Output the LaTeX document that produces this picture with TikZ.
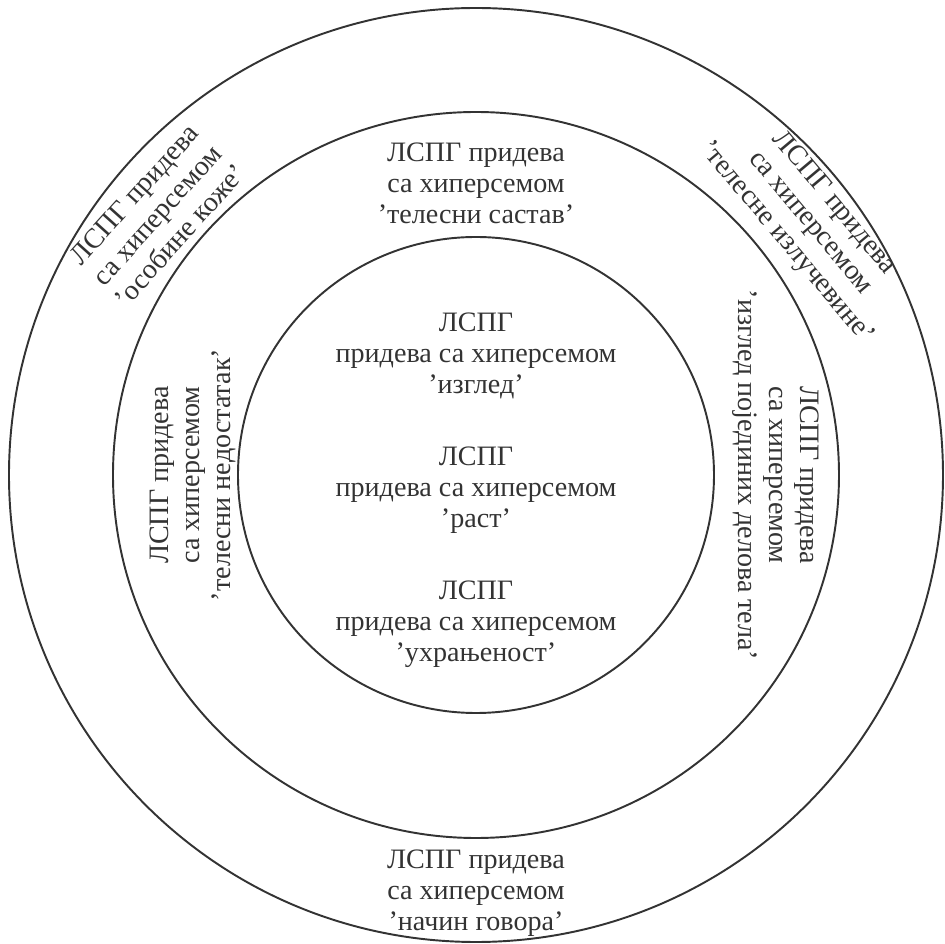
\documentclass[tikz,border=0pt]{standalone}
\usepackage{fontspec}
\setmainfont{Liberation Serif}
\usepackage{tikz}
\usetikzlibrary{positioning, calc}

\begin{document}
\begin{tikzpicture}[ring/.style={draw=black!80,line width=1.1pt}, lbl/.style={align=center,inner sep=0pt,text=black!80,font=\fontsize{16}{17.6}\selectfont}]
  \useasboundingbox (-9.52,-9.38) rectangle (9.38,9.50);
  \coordinate (c) at (0,0);
  % three rings
  \draw[ring] (c) circle (9.34);
  \draw[ring] (c) circle (7.26);
  \draw[ring] (c) circle (4.76);
  % core
  \node[lbl] (izgled) at (0,2.38) {ЛСПГ\\придева са хиперсемом\\’изглед’};
  \node[lbl] (rast) at (0,-0.30) {ЛСПГ\\придева са хиперсемом\\’раст’};
  \node[lbl] (uhranjenost) at (0,-2.98) {ЛСПГ\\придева са хиперсемом\\’ухрањеност’};
  % middle ring
  \node[lbl] (sastav) at (0,5.84) {ЛСПГ придева\\са хиперсемом\\’телесни састав’};
  \node[lbl, rotate=90] (nedostatak) at (-5.66,0) {ЛСПГ придева\\са хиперсемом\\’телесни недостатак’};
  \node[lbl, rotate=-90] (delovi) at (6.0,0) {ЛСПГ придева\\са хиперсемом\\’изглед појединих делова тела’};
  % outer ring
  \node[lbl, rotate=48] (koza) at (-6.38,5.2) {ЛСПГ придева\\са хиперсемом\\’особине коже’};
  \node[lbl, rotate=-50] (izlucevine) at (6.68,5.04) {ЛСПГ придева\\са хиперсемом\\’телесне излучевине’};
  \node[lbl] (govor) at (0,-8.36) {ЛСПГ придева\\са хиперсемом\\’начин говора’};
\end{tikzpicture}
\end{document}
